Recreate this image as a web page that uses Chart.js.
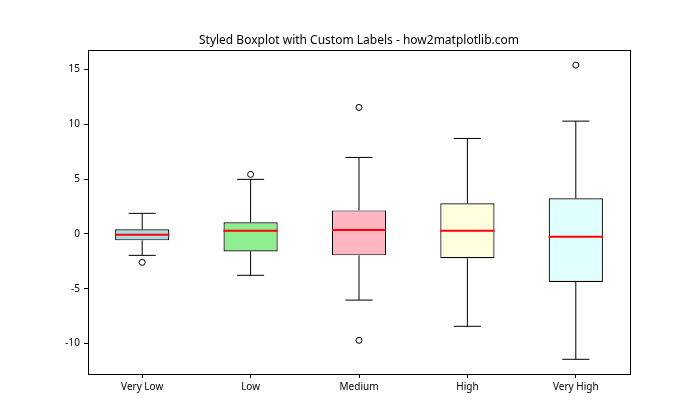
<!DOCTYPE html>
<html><head><meta charset="utf-8">
<script src="https://cdn.jsdelivr.net/npm/chart.js@4"></script>
<style>html,body{margin:0;padding:0;background:#fff}#wrap{width:700px;height:420px}</style>
</head><body><div id="wrap"><canvas id="c" width="700" height="420"></canvas></div>
<script>
// ---- data ----
const categories = ['Very Low', 'Low', 'Medium', 'High', 'Very High'];
const whiskerLow = [-1.95, -3.77, -6.03, -8.42, -11.43];
const q1 = [-0.58, -1.59, -1.95, -2.22, -4.38];
const medians = [-0.07, 0.29, 0.36, 0.29, -0.26];
const q3 = [0.42, 1.06, 2.15, 2.79, 3.25];
const whiskerHigh = [1.88, 4.98, 6.98, 8.71, 10.29];
const outliers = [[-2.59], [5.43], [11.54, -9.70], [], [15.40]];
const yTicks = [-10, -5, 0, 5, 10, 15];
const yLimits = [-12.77, 16.74];
const titleText = 'Styled Boxplot with Custom Labels - how2matplotlib.com';

// ---- styles ----
const boxColors = ['#add8e6', '#90ee90', '#ffb6c1', '#ffffe0', '#e0ffff'];
const FONT = '"Noto Sans", "Open Sans", sans-serif';
const BOX_W = 0.5, CAP_W = 0.25;

const pos = categories.map((c, i) => i + 1);
const gap = x => ({x: x, y: null});

const boxData = pos.map((x, i) => ({x: x, y: [q1[i], q3[i]]}));
const whiskerData = [];
const capData = [];
const medianData = [];
const outlierData = [];
pos.forEach((x, i) => {
  whiskerData.push({x: x, y: q3[i]}, {x: x, y: whiskerHigh[i]}, gap(x),
                   {x: x, y: q1[i]}, {x: x, y: whiskerLow[i]}, gap(x));
  capData.push({x: x - CAP_W / 2, y: whiskerHigh[i]}, {x: x + CAP_W / 2, y: whiskerHigh[i]}, gap(x),
               {x: x - CAP_W / 2, y: whiskerLow[i]}, {x: x + CAP_W / 2, y: whiskerLow[i]}, gap(x));
  medianData.push({x: x - BOX_W / 2, y: medians[i]}, {x: x + BOX_W / 2, y: medians[i]}, gap(x));
  outliers[i].forEach(v => outlierData.push({x: x, y: v}));
});

const framePlugin = {
  id: 'frame',
  afterDraw(chart) {
    const a = chart.chartArea, ctx = chart.ctx;
    ctx.save();
    ctx.strokeStyle = '#000';
    ctx.lineWidth = 1;
    ctx.strokeRect(Math.round(a.left) + 0.5, Math.round(a.top) + 0.5,
                   Math.round(a.right) - Math.round(a.left), Math.round(a.bottom) - Math.round(a.top));
    ctx.restore();
  }
};

const lineDs = (data, color, width, order) => ({
  type: 'line', data: data, borderColor: color, borderWidth: width,
  pointRadius: 0, fill: false, spanGaps: false, stepped: true, order: order
});

new Chart(document.getElementById('c'), {
  type: 'scatter',
  data: {
    datasets: [
      {type: 'bar', data: boxData, backgroundColor: boxColors, borderColor: '#000',
       borderWidth: 1.2, borderSkipped: false, barPercentage: BOX_W, categoryPercentage: 1, order: 5},
      lineDs(whiskerData, '#000', 1, 4),
      lineDs(capData, '#000', 1, 3),
      lineDs(medianData, '#ff0000', 2, 2),
      {type: 'scatter', data: outlierData, pointRadius: 3, pointBorderWidth: 1,
       pointBackgroundColor: 'rgba(255,255,255,0)', pointBorderColor: '#000', order: 1}
    ]
  },
  options: {
    responsive: false,
    devicePixelRatio: 1,
    animation: false,
    events: [],
    layout: {padding: {left: 0, right: 70, top: 0, bottom: 0}},
    plugins: {
      legend: {display: false},
      tooltip: {enabled: false},
      title: {
        display: true, text: titleText, color: '#000', fullSize: false,
        font: {family: FONT, size: 12, weight: 'normal'},
        padding: {top: 33, bottom: 3}
      }
    },
    scales: {
      x: {
        type: 'linear', min: 0.5, max: 5.5, offset: false,
        afterBuildTicks: s => { s.ticks = pos.map(v => ({value: v})); },
        afterFit: s => { s.height = 46; },
        ticks: {
          callback: (v, idx) => categories[idx],
          font: {family: FONT, size: 10}, color: '#000', padding: 3, maxRotation: 0, autoSkip: false
        },
        grid: {display: true, drawOnChartArea: false, drawTicks: true, tickLength: 4, color: '#000', offset: false},
        border: {display: false}
      },
      y: {
        type: 'linear', min: yLimits[0], max: yLimits[1],
        afterBuildTicks: s => { s.ticks = yTicks.map(v => ({value: v})); },
        afterFit: s => { s.width = 88; },
        ticks: {
          font: {family: FONT, size: 10}, color: '#000', padding: 4
        },
        grid: {display: true, drawOnChartArea: false, drawTicks: true, tickLength: 4, color: '#000'},
        border: {display: false}
      }
    }
  },
  plugins: [framePlugin]
});
</script>
</body></html>
